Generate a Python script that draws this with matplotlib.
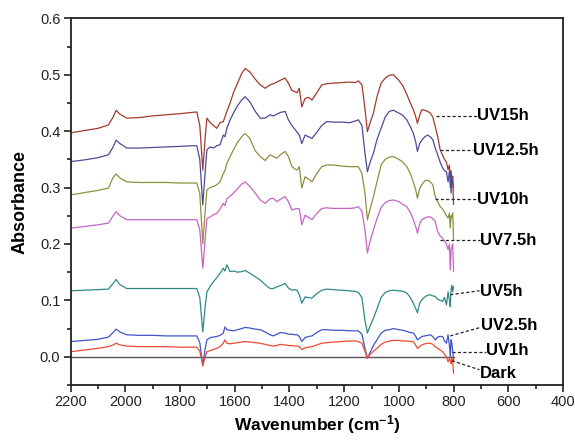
import matplotlib
matplotlib.use("Agg")
import matplotlib.pyplot as plt
from matplotlib.ticker import MultipleLocator

plt.rcParams['font.family'] = ['Liberation Sans', 'DejaVu Sans']
plt.rcParams['mathtext.fontset'] = 'custom'
plt.rcParams['mathtext.rm'] = 'Liberation Sans'
plt.rcParams['mathtext.bf'] = 'Liberation Sans:bold'
plt.rcParams['mathtext.default'] = 'bf'

# wavenumber grid (cm-1), shared by all spectra
wn = [2200, 2150, 2100, 2062, 2045, 2034, 2020, 1995, 1950, 1900,
      1850, 1800, 1760, 1739, 1728, 1717, 1708, 1702, 1690, 1678,
      1666, 1654, 1642, 1636, 1629, 1617, 1605, 1590, 1575, 1562,
      1545, 1525, 1507, 1489, 1471, 1459, 1446, 1434, 1416, 1404,
      1391, 1380, 1372, 1364, 1355, 1343, 1330, 1318, 1300, 1282,
      1264, 1240, 1210, 1180, 1160, 1148, 1135, 1124, 1115, 1105,
      1093, 1080, 1065, 1050, 1035, 1020, 1000, 985, 971, 958,
      947, 938, 932, 924, 916, 905, 895, 885, 876, 867,
      858, 849, 840, 833, 826, 820, 815, 812, 809, 806,
      803, 800]

uv15 = [0.397, 0.401, 0.405, 0.411, 0.425, 0.437, 0.430, 0.423, 0.424, 0.427,
        0.429, 0.431, 0.433, 0.434, 0.410, 0.331, 0.390, 0.423, 0.415, 0.410,
        0.405, 0.415, 0.417, 0.425, 0.435, 0.450, 0.468, 0.485, 0.502, 0.511,
        0.505, 0.492, 0.482, 0.476, 0.482, 0.484, 0.487, 0.490, 0.494, 0.485,
        0.472, 0.470, 0.468, 0.476, 0.443, 0.458, 0.460, 0.455, 0.468, 0.482,
        0.484, 0.485, 0.486, 0.487, 0.486, 0.489, 0.482, 0.440, 0.399, 0.415,
        0.432, 0.461, 0.485, 0.494, 0.499, 0.500, 0.490, 0.480, 0.465, 0.450,
        0.438, 0.425, 0.414, 0.428, 0.438, 0.437, 0.435, 0.432, 0.425, 0.408,
        0.390, 0.367, 0.357, 0.350, 0.345, 0.332, 0.340, 0.300, 0.330, 0.313,
        0.320, 0.270]

uv125 = [0.346, 0.349, 0.353, 0.358, 0.372, 0.384, 0.378, 0.370, 0.370, 0.371,
         0.372, 0.373, 0.374, 0.374, 0.350, 0.269, 0.330, 0.367, 0.372, 0.370,
         0.374, 0.376, 0.393, 0.390, 0.405, 0.420, 0.432, 0.445, 0.455, 0.461,
         0.452, 0.435, 0.423, 0.423, 0.429, 0.427, 0.430, 0.433, 0.435, 0.420,
         0.410, 0.403, 0.398, 0.393, 0.378, 0.393, 0.390, 0.387, 0.398, 0.410,
         0.417, 0.416, 0.416, 0.415, 0.418, 0.420, 0.410, 0.361, 0.328, 0.345,
         0.361, 0.385, 0.405, 0.425, 0.435, 0.437, 0.432, 0.428, 0.420, 0.408,
         0.396, 0.380, 0.364, 0.378, 0.384, 0.390, 0.393, 0.390, 0.385, 0.370,
         0.358, 0.345, 0.335, 0.330, 0.328, 0.310, 0.330, 0.322, 0.290, 0.315,
         0.310, 0.300]

uv10 = [0.287, 0.291, 0.295, 0.299, 0.318, 0.324, 0.317, 0.310, 0.309, 0.309,
        0.309, 0.308, 0.308, 0.308, 0.290, 0.200, 0.260, 0.296, 0.300, 0.302,
        0.305, 0.310, 0.325, 0.330, 0.343, 0.355, 0.367, 0.380, 0.390, 0.396,
        0.387, 0.365, 0.355, 0.348, 0.358, 0.355, 0.352, 0.358, 0.364, 0.355,
        0.337, 0.333, 0.331, 0.337, 0.299, 0.319, 0.315, 0.310, 0.325, 0.337,
        0.340, 0.340, 0.338, 0.337, 0.337, 0.337, 0.325, 0.290, 0.243, 0.262,
        0.284, 0.310, 0.340, 0.350, 0.354, 0.355, 0.350, 0.345, 0.337, 0.325,
        0.310, 0.295, 0.281, 0.298, 0.305, 0.312, 0.313, 0.310, 0.305, 0.284,
        0.275, 0.266, 0.262, 0.256, 0.250, 0.246, 0.255, 0.228, 0.250, 0.248,
        0.255, 0.207]

uv75 = [0.228, 0.231, 0.234, 0.237, 0.250, 0.257, 0.250, 0.243, 0.243, 0.243,
        0.243, 0.243, 0.243, 0.243, 0.225, 0.157, 0.210, 0.245, 0.248, 0.252,
        0.254, 0.262, 0.272, 0.268, 0.280, 0.285, 0.290, 0.298, 0.306, 0.310,
        0.302, 0.290, 0.278, 0.272, 0.280, 0.281, 0.275, 0.279, 0.284, 0.275,
        0.260, 0.262, 0.263, 0.262, 0.234, 0.251, 0.247, 0.243, 0.254, 0.263,
        0.264, 0.263, 0.263, 0.263, 0.264, 0.266, 0.258, 0.225, 0.184, 0.205,
        0.225, 0.245, 0.265, 0.273, 0.277, 0.278, 0.275, 0.270, 0.266, 0.256,
        0.243, 0.230, 0.219, 0.235, 0.243, 0.246, 0.248, 0.248, 0.245, 0.240,
        0.222, 0.214, 0.210, 0.205, 0.200, 0.190, 0.200, 0.154, 0.190, 0.195,
        0.200, 0.151]

uv5 = [0.117, 0.118, 0.119, 0.120, 0.130, 0.137, 0.128, 0.121, 0.121, 0.121,
       0.121, 0.121, 0.121, 0.121, 0.105, 0.044, 0.090, 0.115, 0.125, 0.133,
       0.140, 0.148, 0.157, 0.152, 0.163, 0.151, 0.152, 0.150, 0.151, 0.153,
       0.148, 0.142, 0.136, 0.128, 0.121, 0.121, 0.124, 0.126, 0.130, 0.122,
       0.118, 0.119, 0.118, 0.110, 0.095, 0.106, 0.105, 0.104, 0.112, 0.118,
       0.120, 0.119, 0.118, 0.117, 0.116, 0.114, 0.105, 0.065, 0.042, 0.055,
       0.068, 0.085, 0.105, 0.114, 0.117, 0.118, 0.117, 0.116, 0.113, 0.105,
       0.095, 0.085, 0.078, 0.095, 0.101, 0.106, 0.109, 0.110, 0.108, 0.107,
       0.102, 0.100, 0.098, 0.105, 0.092, 0.115, 0.100, 0.089, 0.120, 0.127,
       0.115, 0.124]

uv25 = [0.027, 0.029, 0.031, 0.035, 0.043, 0.049, 0.044, 0.039, 0.038, 0.038,
        0.037, 0.037, 0.037, 0.037, 0.025, -0.016, 0.015, 0.030, 0.034, 0.035,
        0.036, 0.038, 0.042, 0.053, 0.048, 0.047, 0.046, 0.048, 0.050, 0.052,
        0.051, 0.049, 0.048, 0.044, 0.039, 0.037, 0.040, 0.043, 0.042, 0.040,
        0.040, 0.039, 0.039, 0.036, 0.027, 0.034, 0.036, 0.037, 0.043, 0.048,
        0.048, 0.047, 0.047, 0.046, 0.046, 0.046, 0.040, 0.015, -0.003, 0.008,
        0.020, 0.030, 0.042, 0.047, 0.048, 0.050, 0.048, 0.047, 0.045, 0.043,
        0.042, 0.036, 0.030, 0.033, 0.036, 0.037, 0.038, 0.039, 0.036, 0.030,
        0.035, 0.036, 0.036, 0.028, 0.024, 0.039, 0.020, 0.000, 0.030, 0.024,
        0.010, -0.006]

uv1 = [0.009, 0.012, 0.015, 0.018, 0.021, 0.024, 0.021, 0.019, 0.018, 0.018,
       0.018, 0.017, 0.017, 0.017, 0.010, -0.015, 0.000, 0.009, 0.011, 0.013,
       0.015, 0.018, 0.024, 0.030, 0.024, 0.023, 0.024, 0.025, 0.026, 0.027,
       0.026, 0.025, 0.024, 0.022, 0.020, 0.019, 0.020, 0.022, 0.021, 0.020,
       0.020, 0.019, 0.019, 0.018, 0.013, 0.016, 0.017, 0.018, 0.021, 0.024,
       0.025, 0.026, 0.027, 0.028, 0.028, 0.027, 0.024, 0.010, -0.003, 0.004,
       0.010, 0.015, 0.022, 0.026, 0.028, 0.029, 0.029, 0.028, 0.028, 0.027,
       0.027, 0.020, 0.015, 0.018, 0.021, 0.023, 0.024, 0.024, 0.022, 0.018,
       0.015, 0.012, 0.009, 0.004, 0.000, -0.009, -0.003, -0.006, -0.012, 0.000,
       -0.010, -0.029]

dark_wn = [2200, 800]
dark = [0.0, 0.0]

series = [uv15, uv125, uv10, uv75, uv5, uv25, uv1]
colors = ['#A23A2E', '#4B4B9A', '#8F8F40', '#C664C6', '#2F8A86', '#3F55C6', '#F04A32']

labels = ['UV15h', 'UV12.5h', 'UV10h', 'UV7.5h', 'UV5h', 'UV2.5h', 'UV1h', 'Dark']
# leader line start/end and text anchor, data coords
lead_from = [(864, 0.427), (849, 0.366), (867, 0.279), (849, 0.207),
             (812, 0.110), (812, 0.037), (806, 0.009), (806, -0.007)]
lead_to = [(716, 0.427), (730, 0.366), (716, 0.279), (705, 0.207),
           (705, 0.117), (702, 0.052), (682, 0.009), (705, -0.023)]
text_at = [(714, 0.427), (728, 0.366), (714, 0.279), (703, 0.207),
           (703, 0.115), (700, 0.056), (680, 0.011), (703, -0.030)]

fig = plt.figure(figsize=(5.75, 4.41), dpi=100)
ax = fig.add_axes([0.123, 0.127, 0.856, 0.8315])

ax.plot(dark_wn, dark, color='#555555', lw=1.0)
for ys, c in zip(series, colors):
    ax.plot(wn, ys, color=c, lw=0.9)

for lab, p0, p1, pt in zip(labels, lead_from, lead_to, text_at):
    ax.plot([p0[0], p1[0]], [p0[1], p1[1]], color='#222222', lw=0.9,
            linestyle=(0, (2.5, 1.8)))
    ax.text(pt[0], pt[1], lab, fontsize=12, fontweight='bold',
            ha='left', va='center')

ax.set_xlim(2200, 400)
ax.set_ylim(-0.05, 0.6)
ax.xaxis.set_major_locator(MultipleLocator(200))
ax.xaxis.set_minor_locator(MultipleLocator(100))
ax.yaxis.set_major_locator(MultipleLocator(0.1))
ax.yaxis.set_minor_locator(MultipleLocator(0.05))
ax.yaxis.set_major_formatter(matplotlib.ticker.FormatStrFormatter('%.1f'))
ax.tick_params(which='both', direction='out', top=False, right=False,
               labelsize=10.5, width=1.2, colors='#222222')
ax.tick_params(which='major', length=5, pad=2.5)
ax.tick_params(which='minor', length=3)
for s in ax.spines.values():
    s.set_linewidth(1.3)
    s.set_color('#222222')

ax.set_ylabel('Absorbance', fontsize=13, fontweight='bold', labelpad=8)
ax.set_xlabel('Wavenumber (cm$^{-1}$)', fontsize=12.5, fontweight='bold', labelpad=3)

fig.savefig('out.png', dpi=100)
